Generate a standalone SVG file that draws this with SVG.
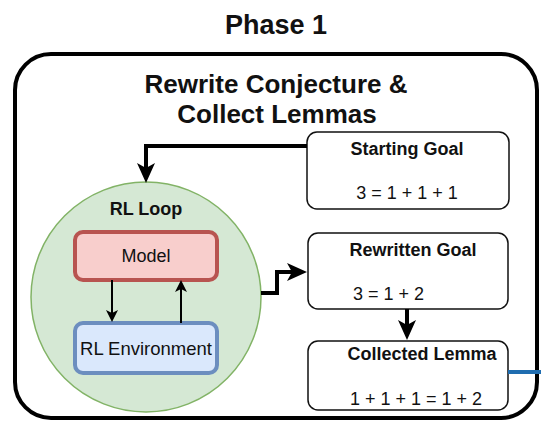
<svg xmlns="http://www.w3.org/2000/svg" width="541" height="429" viewBox="0 0 541 429">
  <style>
    text { font-family: "Liberation Sans", Arial, sans-serif; fill: #111; text-anchor: middle; }
    .title { font-size: 27px; font-weight: bold; }
    .heading { font-size: 26px; font-weight: bold; }
    .bold { font-size: 18px; font-weight: bold; }
    .plain { font-size: 18px; }
    .card { fill: #ffffff; stroke: #111; stroke-width: 1.5; }
    .thick { fill: none; stroke: #000; stroke-width: 4; }
    .thin { fill: none; stroke: #000; stroke-width: 2; }
  </style>
  <defs>
    <marker id="arrowBig" markerUnits="userSpaceOnUse" viewBox="0 0 20 20" markerWidth="20" markerHeight="20" refX="5" refY="10" orient="auto">
      <path d="M0,1 L20,10 L0,19 L5,10 Z" fill="#000"/>
    </marker>
    <marker id="arrowSmall" markerUnits="userSpaceOnUse" viewBox="0 0 12 12" markerWidth="12" markerHeight="12" refX="3" refY="6" orient="auto">
      <path d="M0,0 L12,6 L0,12 L3,6 Z" fill="#000"/>
    </marker>
  </defs>

  <rect width="541" height="429" fill="#ffffff"/>

  <text class="title" x="276" y="34">Phase 1</text>

  <g id="phase-container">
    <rect x="15" y="54" width="522" height="364" rx="36" ry="36" fill="#ffffff" stroke="#000" stroke-width="4"/>
    <text class="heading" x="276" y="93">Rewrite Conjecture &amp;</text>
    <text class="heading" x="277" y="123">Collect Lemmas</text>
  </g>

  <g id="rl-loop">
    <circle cx="146" cy="297" r="115" fill="#d5e8d4" stroke="#82b366" stroke-width="1.5"/>
    <text class="bold" x="146" y="215">RL Loop</text>
  </g>

  <g id="model">
    <rect x="75" y="232" width="142" height="48" rx="8" ry="8" fill="#f8cecc" stroke="#b85450" stroke-width="4"/>
    <text class="plain" x="146" y="262">Model</text>
  </g>

  <g id="rl-environment">
    <rect x="75" y="323" width="142" height="50" rx="8" ry="8" fill="#dae8fc" stroke="#6c8ebf" stroke-width="4"/>
    <text x="146" y="355" style="font-size:18.5px">RL Environment</text>
  </g>

  <g id="starting-goal">
    <rect class="card" x="307" y="132" width="202" height="77" rx="10" ry="10"/>
    <text class="bold" x="407" y="155">Starting Goal</text>
    <text class="plain" x="407" y="199">3 = 1 + 1 + 1</text>
  </g>

  <g id="rewritten-goal">
    <rect class="card" x="308" y="233" width="200" height="76" rx="10" ry="10"/>
    <text class="bold" x="413" y="256">Rewritten Goal</text>
    <text class="plain" x="353" y="300" style="text-anchor:start">3 = 1 + 2</text>
  </g>

  <g id="collected-lemma">
    <rect class="card" x="308" y="341" width="200" height="69" rx="10" ry="10"/>
    <text class="bold" x="422" y="360">Collected Lemma</text>
    <text class="plain" x="416" y="405">1 + 1 + 1 = 1 + 2</text>
  </g>

  <g id="connectors">
    <path class="thick" d="M307,146 H146 V168" marker-end="url(#arrowBig)"/>
    <path class="thick" d="M261,293 H277 V272 H292" marker-end="url(#arrowBig)"/>
    <path class="thick" d="M407,309 V325" marker-end="url(#arrowBig)"/>
    <path class="thin" d="M112,280 V313" marker-end="url(#arrowSmall)"/>
    <path class="thin" d="M181,323 V289" marker-end="url(#arrowSmall)"/>
    <path d="M508,372 H541" fill="none" stroke="#1f6db0" stroke-width="4"/>
  </g>
</svg>
